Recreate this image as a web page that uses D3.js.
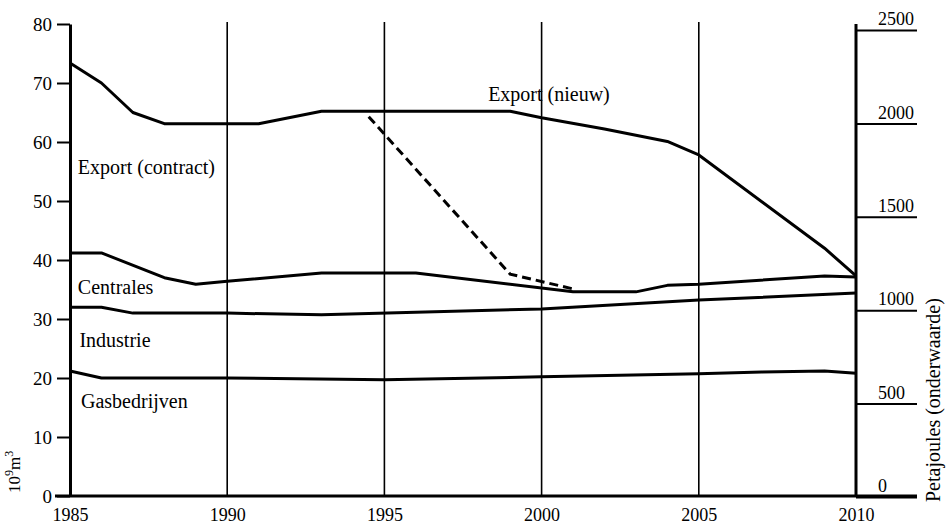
<!doctype html>
<html lang="nl">
<head>
<meta charset="utf-8">
<title>Aardgas afzet</title>
<script src="https://d3js.org/d3.v7.min.js"></script>
<style>
  body { margin: 0; background: #fff; }
  svg text { font-family: "Liberation Serif", "Times New Roman", serif !important; fill: #000; }
  .line { fill: none; stroke: #000; stroke-width: 3; stroke-linejoin: round; }
  .dash { fill: none; stroke: #000; stroke-width: 3; stroke-dasharray: 9,5; }
</style>
</head>
<body>
<svg width=946 height=526 class="chart"></svg>
<script>
// data (10^9 m3)
var exportYears   = [1985, 1986, 1987, 1988, 1991, 1993, 1999, 2000, 2002, 2004, 2005, 2009, 2010];
var exportValues  = [73.4, 70, 65, 63.1, 63.1, 65.2, 65.2, 64.1, 62.2, 60.1, 57.8, 42, 37.3];
var contractYears  = [1994.5, 1999, 2001];
var contractValues = [64.3, 37.6, 35.1];
var centralesYears  = [1985, 1986, 1988, 1989, 1990, 1993, 1996, 2001, 2003, 2004, 2005, 2009, 2010];
var centralesValues = [41.2, 41.2, 37, 35.9, 36.4, 37.8, 37.8, 34.6, 34.6, 35.7, 35.9, 37.3, 37.1];
var industrieYears  = [1985, 1986, 1987, 1990, 1993, 2000, 2005, 2010];
var industrieValues = [32, 32, 31, 31, 30.7, 31.7, 33.2, 34.4];
var gasYears  = [1985, 1986, 1990, 1995, 2000, 2005, 2007, 2009, 2010];
var gasValues = [21.2, 20, 20, 19.7, 20.2, 20.7, 21, 21.2, 20.8];

var xTicks = [1985, 1990, 1995, 2000, 2005, 2010];
var gridYears = [1990, 1995, 2000, 2005];
var leftTicks = [0, 10, 20, 30, 40, 50, 60, 70, 80];
var rightTicks = [0, 500, 1000, 1500, 2000, 2500];

var labels = [
  {text: "Export (contract)", year: 1985.25, value: 54.5},
  {text: "Export (nieuw)", year: 1998.3, value: 67.0},
  {text: "Centrales", year: 1985.25, value: 34.2},
  {text: "Industrie", year: 1985.3, value: 25.2},
  {text: "Gasbedrijven", year: 1985.35, value: 14.9}
];

function zip(a, b) { return a.map(function(d, i) { return {year: d, value: b[i]}; }); }

var svg = d3.select(".chart");

var x = d3.scaleLinear().domain([1985, 2010]).range([70, 856]);
var y = d3.scaleLinear().domain([0, 80]).range([496, 24]);
var y2 = d3.scaleLinear().domain([0, 2500]).range([497, 30]);

var valueline = d3.line()
  .x(function(d) { return x(d.year); })
  .y(function(d) { return y(d.value); });

// vertical grid lines
svg.append("g").selectAll("line")
  .data(gridYears).enter().append("line")
  .attr("x1", function(d) { return x(d); }).attr("x2", function(d) { return x(d); })
  .attr("y1", y(80) - 2).attr("y2", y(0))
  .attr("stroke", "#000").attr("stroke-width", 1.6);

// left axis
var left = svg.append("g").attr("transform", "translate(" + x(1985) + ",0)")
  .call(d3.axisLeft(y).tickValues(leftTicks).tickSize(13).tickPadding(5).tickSizeOuter(0));
left.attr("font-family", null).attr("font-size", null);
left.select(".domain").attr("stroke-width", 3);
left.selectAll(".tick line").attr("stroke-width", 2);
left.selectAll(".tick text").style("font-size", "19px");

// right axis (petajoules), long ticks, labels sit on top of them
var right = svg.append("g").attr("transform", "translate(" + x(2010) + ",0)")
  .call(d3.axisRight(y2).tickValues(rightTicks).tickSize(61).tickSizeOuter(0).tickFormat(d3.format("d")));
right.attr("font-family", null).attr("font-size", null);
right.select(".domain").attr("stroke-width", 3).attr("d", "M0," + (y(80)) + "V" + y2(0));
right.selectAll(".tick line").attr("stroke-width", 2);
right.selectAll(".tick text").style("font-size", "18px")
  .attr("x", 22).attr("dy", "-0.3em").style("text-anchor", "start");

// bottom axis
var bottom = svg.append("g").attr("transform", "translate(0," + y(0) + ")")
  .call(d3.axisBottom(x).tickValues(xTicks).tickSize(0).tickPadding(12).tickFormat(d3.format("d")));
bottom.attr("font-family", null).attr("font-size", null);
bottom.select(".domain").attr("stroke-width", 3).attr("d", "M55,0H917");
bottom.selectAll(".tick text").style("font-size", "18px");

// axis titles
svg.append("text")
  .attr("transform", "translate(20," + 493 + ") rotate(-90)")
  .style("font-size", "17px")
  .html('10<tspan dy="-7" font-size="12">9</tspan><tspan dy="7">m</tspan><tspan dy="-7" font-size="12">3</tspan>');
svg.append("text")
  .attr("transform", "translate(940," + 502 + ") rotate(-90)")
  .style("font-size", "20px")
  .text("Petajoules (onderwaarde)");

// series
var series = [zip(exportYears, exportValues), zip(centralesYears, centralesValues),
              zip(industrieYears, industrieValues), zip(gasYears, gasValues)];
svg.append("g").selectAll("path")
  .data(series).enter().append("path")
  .attr("class", "line")
  .attr("d", valueline);

svg.append("path")
  .datum(zip(contractYears, contractValues))
  .attr("class", "dash")
  .attr("d", valueline);

// labels
svg.append("g").selectAll("text")
  .data(labels).enter().append("text")
  .attr("x", function(d) { return x(d.year); })
  .attr("y", function(d) { return y(d.value); })
  .style("font-size", "20px")
  .text(function(d) { return d.text; });
</script>
</body>
</html>
